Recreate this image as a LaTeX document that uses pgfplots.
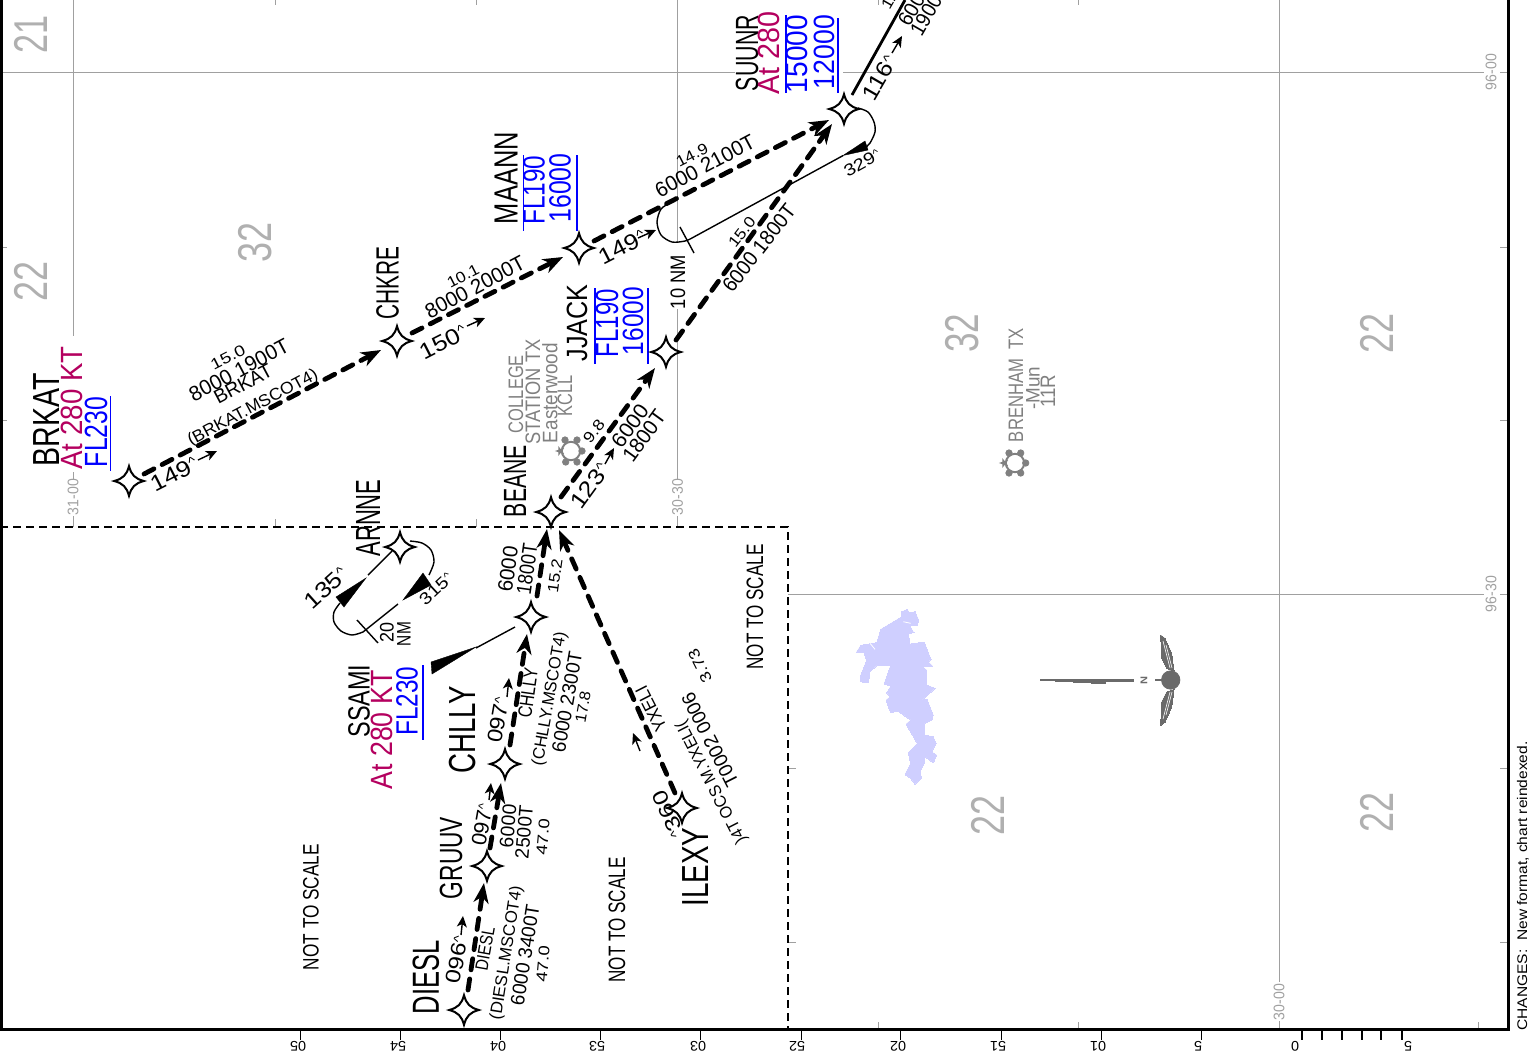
\documentclass[border=0pt]{standalone}
\usepackage{pgfplots}
\usepackage{graphicx}
\usepackage{fontspec}
\pgfplotsset{compat=1.18}
\usetikzlibrary{arrows.meta}
\setmainfont{Liberation Sans}

\definecolor{speed}{HTML}{B4005F}
\definecolor{lake}{HTML}{CFCFFF}
\definecolor{gridgrey}{HTML}{A0A0A0}
\definecolor{bignum}{HTML}{B0B0B0}
\definecolor{apt}{HTML}{808080}
\definecolor{rose}{HTML}{6A6A6A}

% one picture pixel = 0.5pt
\newdimen\pxu \pxu=0.5pt
% x, y, rotation, cap height (px), length (px), colour, text
\newcommand{\lab}[7]{\node[rotate=#3,inner sep=0pt,text=#6] at (axis cs:#1,#2)
  {\pgfmathsetmacro\fs{#4*0.698}\fontsize{\fs}{\fs}\selectfont\resizebox{#5\pxu}{\height}{#7}};}
% the small raised degree caret of the course labels
\newcommand{\crt}{\raisebox{0.25em}{\scalebox{0.6}{\textasciicircum}}}

\pgfdeclareplotmark{wpstar}{%
  \pgfpathmoveto{\pgfqpoint{0pt}{7.4pt}}
  \pgfpathcurveto{\pgfqpoint{1.2pt}{3pt}}{\pgfqpoint{3pt}{1.2pt}}{\pgfqpoint{7.4pt}{0pt}}
  \pgfpathcurveto{\pgfqpoint{3pt}{-1.2pt}}{\pgfqpoint{1.2pt}{-3pt}}{\pgfqpoint{0pt}{-7.4pt}}
  \pgfpathcurveto{\pgfqpoint{-1.2pt}{-3pt}}{\pgfqpoint{-3pt}{-1.2pt}}{\pgfqpoint{-7.4pt}{0pt}}
  \pgfpathcurveto{\pgfqpoint{-3pt}{1.2pt}}{\pgfqpoint{-1.2pt}{3pt}}{\pgfqpoint{0pt}{7.4pt}}
  \pgfpathclose\pgfusepathqfillstroke}

\pgfdeclareplotmark{aptstar}{%
  \pgfpathmoveto{\pgfqpoint{-2.6pt}{0pt}}
  \pgfpathlineto{\pgfqpoint{-0.81pt}{0.59pt}}
  \pgfpathlineto{\pgfqpoint{-0.8pt}{2.47pt}}
  \pgfpathlineto{\pgfqpoint{0.31pt}{0.95pt}}
  \pgfpathlineto{\pgfqpoint{2.1pt}{1.53pt}}
  \pgfpathlineto{\pgfqpoint{1pt}{0pt}}
  \pgfpathlineto{\pgfqpoint{2.1pt}{-1.53pt}}
  \pgfpathlineto{\pgfqpoint{0.31pt}{-0.95pt}}
  \pgfpathlineto{\pgfqpoint{-0.8pt}{-2.47pt}}
  \pgfpathlineto{\pgfqpoint{-0.81pt}{-0.59pt}}
  \pgfpathclose\pgfusepathqfill}

\pgfplotsset{
  route/.style={black,line width=2.4pt,line cap=round,dash pattern=on 5.6pt off 4.6pt,
    -{Stealth[length=10pt,width=7.5pt,inset=3pt]}},
  small arrow/.style={black,line width=0.7pt,-{Stealth[length=5.5pt,width=5pt,inset=1.5pt]}},
  hold/.style={black,line width=0.7pt},
  wedge/.style={black,fill=black,line width=0.2pt},
  gridline/.style={gridgrey,line width=0.5pt},
  tick/.style={gridgrey,line width=0.4pt},
  frame/.style={black,line width=1.5pt},
  fix line/.style={blue,line width=0.7pt},
}

\begin{document}
\begin{tikzpicture}
\path[use as bounding box,clip] (0,0) rectangle (767.5pt,528pt);
\begin{axis}[
    scale only axis,
    width=767.5pt,
    height=528pt,
    xmin=0, xmax=1535,
    ymin=0, ymax=1056,
    y dir=reverse,
    hide axis,
    clip=false
]

% lake
\addplot[lake,fill=lake,line width=0pt] coordinates {
  (901.7,611.7)(907.3,609.3)(909.3,612.7)(915,611.7)(918.7,620)(917.3,625)(910,626)
  (914,632.7)(908.3,633.3)(910,644)(924.3,642)(931,659.3)(928.3,661.7)(932.7,666)
  (920,666)(910,656)(926.7,670)(926.7,685)(935,688.3)(919,703)(916,702)(923,700)(927,699)
  (933.3,715)(931.7,720)(924,724)(924,735)(933.3,736.7)(936,743.3)(931.7,751.7)
  (936.7,755)(933.3,762.7)(925,756.7)(924,763.3)(920,771.7)(921.7,778.3)(915,784)
  (910.7,778.3)(905,774.3)(910.7,763.3)(908.3,752.7)(917.3,743.3)(906,724)(910.7,720)
  (897.7,711)(890.7,712.7)(886,700)(890,696.7)(886.7,692.7)(890.7,686)(884,684)
  (890.7,665)(877.3,665)(870,671.7)(868.3,682.7)(860.7,681.7)(860.7,675)(866.7,660)
  (864,652.7)(856,652.7)(860.7,645.3)(876.7,642.7)(880.7,629.3)(901.7,616.7)
} -- cycle;
\addplot[white,line width=0.4pt] coordinates {(870,643.3)(875,649.3)};
\addplot[white,line width=0.4pt] coordinates {(903.3,621.7)(910.7,623.3)};

% grid lines
\addplot[gridline] coordinates {(0,72)(735,72)};
\addplot[gridline] coordinates {(843,72)(1484,72)};
\addplot[gridline] coordinates {(788,594.5)(1484,594.5)};
\addplot[gridline] coordinates {(73,0)(73,336)};
\addplot[gridline] coordinates {(73,472)(73,479)};
\addplot[gridline] coordinates {(73,516)(73,527)};
\addplot[gridline] coordinates {(677.5,0)(677.5,243)};
\addplot[gridline] coordinates {(677.5,309)(677.5,479)};
\addplot[gridline] coordinates {(677.5,516)(677.5,527)};
\addplot[gridline] coordinates {(1279,0)(1279,982)};
\addplot[gridline] coordinates {(1279,1021)(1279,1029)};

% short ticks
\addplot[tick] coordinates {(0,247)(7,247)};
\addplot[tick] coordinates {(0,420)(7,420)};
\addplot[tick] coordinates {(275,0)(275,5)};
\addplot[tick] coordinates {(476,0)(476,5)};
\addplot[tick] coordinates {(878,0)(878,5)};
\addplot[tick] coordinates {(1078,0)(1078,5)};
\addplot[tick] coordinates {(275,519)(275,527)};
\addplot[tick] coordinates {(476,519)(476,527)};
\addplot[tick] coordinates {(878,1022)(878,1029)};
\addplot[tick] coordinates {(1078,1022)(1078,1029)};
\addplot[tick] coordinates {(1478,1022)(1478,1029)};
\addplot[tick] coordinates {(788,768)(796,768)};
\addplot[tick] coordinates {(788,942)(796,942)};
\addplot[tick] coordinates {(1500,72)(1508,72)};
\addplot[tick] coordinates {(1500,247)(1508,247)};
\addplot[tick] coordinates {(1500,420)(1508,420)};
\addplot[tick] coordinates {(1500,594)(1508,594)};
\addplot[tick] coordinates {(1500,768)(1508,768)};
\addplot[tick] coordinates {(1500,942)(1508,942)};

% not-to-scale box
\addplot[black,line width=1pt,dash pattern=on 4pt off 2.5pt] coordinates {(0,527)(788,527)(788,1029)};

% holding patterns
\addplot[hold] coordinates {(843,155.6)(692,238)};
\addplot[hold,smooth] coordinates {(858,108)(868,112)(874,122)(875,132)(870,143)(865,148)};
\addplot[hold,smooth] coordinates {(670,203)(661,209)(657,222)(661,235)(672,242)(685,241)(692,238)};
\addplot[hold] coordinates {(680,227)(694,253)};
\addplot[wedge] coordinates {(843,155.5)(865,141)(868,150)} -- cycle;

\addplot[hold] coordinates {(392,551)(368,575)};
\addplot[wedge] coordinates {(366,578)(336,597)(344,607)} -- cycle;
\addplot[hold,smooth] coordinates {(340,603)(334,612)(334,622)(341,631)(352,635)(363,632)};
\addplot[hold] coordinates {(363,632)(398,604)};
\addplot[wedge] coordinates {(403,600)(423,573)(431,585)} -- cycle;
\addplot[hold,smooth] coordinates {(429,575)(434,562)(431,550)(422,543)(410,541)};
\addplot[hold] coordinates {(357,620)(378,643)};

% SSAMI feeder
\addplot[hold] coordinates {(515,627)(476,648)};
\addplot[wedge] coordinates {(476,647)(431,662)(432,674)} -- cycle;

% outbound leg
\addplot[black,line width=1.4pt] coordinates {(852,95)(905,0)};

% routes
\addplot[route] coordinates {(144,474)(381,350)};
\addplot[route] coordinates {(412,333)(563,257)};
\addplot[route] coordinates {(594,241)(829,120)};
\addplot[route] coordinates {(561,497)(655,368)};
\addplot[route] coordinates {(676,340)(832,124)};
\addplot[route] coordinates {(468,990)(484,883)};
\addplot[route] coordinates {(490,848)(501,783)};
\addplot[route] coordinates {(510,745)(527,634)};
\addplot[route] coordinates {(537,596)(547,529)};
\addplot[route] coordinates {(675,793)(559,530)};

% course arrows
\addplot[small arrow] coordinates {(198,460)(217,451)};
\addplot[small arrow] coordinates {(467,326)(485,318)};
\addplot[small arrow] coordinates {(638,238)(656,230)};
\addplot[small arrow] coordinates {(605,464)(614,448)};
\addplot[small arrow] coordinates {(892,53)(902,36)};
\addplot[small arrow] coordinates {(507,697)(509,678)};
\addplot[small arrow] coordinates {(489,800)(491,783)};
\addplot[small arrow] coordinates {(461,935)(463,916)};
\addplot[small arrow] coordinates {(640,751)(633,733)};

% waypoints
\addplot[only marks,mark=wpstar,mark options={fill=white,draw=black,line width=1pt,solid}] coordinates {
  (129,481)(397,341)(579,248)(666,352)(844,109)(551,512)
  (400,547)(531,617)(505,764)(487,866)(464,1010)(682,808)
};

% airports
\addplot[only marks,mark=o,mark size=4.6pt,mark options={draw=apt,line width=1pt}] coordinates {(1015,463)(571,451)};
\addplot[only marks,mark=*,mark size=1.6pt,mark options={fill=apt,draw=apt}] coordinates {
  (1009,453)(1020.7,453)(1025.7,463)(1020.7,473)(1009,473)
  (565,440)(577,440)(582,451)(577,462)(565.7,462)
};
\addplot[only marks,mark=aptstar,mark options={fill=apt,draw=apt}] coordinates {(1004,463)(560,451)};

% compass
\addplot[rose,fill=rose,line width=0pt] coordinates {(1040.7,679.3)(1133.3,679.3)(1133.3,681.7)(1106,681.7)(1105,683.7)(1040.7,680.2)} -- cycle;
\addplot[rose,line width=0.6pt] coordinates {(1155,680)(1163,680)};
\addplot[only marks,mark=*,mark size=4.6pt,mark options={fill=rose,draw=rose}] coordinates {(1170.7,680)};
\addplot[rose,fill=rose,line width=0pt] coordinates {(1160.7,635)(1165,638.3)(1171.7,653.3)(1174,670.7)(1166.7,668.3)(1161.7,658.3)} -- cycle;
\addplot[rose,fill=rose,line width=0pt] coordinates {(1160.7,725.5)(1165,722)(1171.7,707)(1174,689.5)(1166.7,692)(1161.7,702)} -- cycle;
\addplot[white,line width=0.3pt] coordinates {(1163,641)(1170,668)};
\addplot[white,line width=0.3pt] coordinates {(1166,645)(1172,668)};
\addplot[white,line width=0.3pt] coordinates {(1163,719)(1170,692)};
\addplot[white,line width=0.3pt] coordinates {(1166,715)(1172,692)};
\lab{1144}{680}{-90}{7}{8}{rose}{\textbf{N}}

% frame
\addplot[frame] coordinates {(1,0)(1,1029)(1508,1029)(1508,0)};

% bottom ticks and scale
\addplot[black,line width=0.5pt] coordinates {(300,1029)(300,1040)};
\addplot[black,line width=0.5pt] coordinates {(400,1029)(400,1040)};
\addplot[black,line width=0.5pt] coordinates {(500.5,1029)(500.5,1040)};
\addplot[black,line width=0.5pt] coordinates {(600,1029)(600,1040)};
\addplot[black,line width=0.5pt] coordinates {(700,1029)(700,1040)};
\addplot[black,line width=0.5pt] coordinates {(801,1029)(801,1040)};
\addplot[black,line width=0.5pt] coordinates {(900.5,1029)(900.5,1040)};
\addplot[black,line width=0.5pt] coordinates {(1001,1029)(1001,1040)};
\addplot[black,line width=0.5pt] coordinates {(1101,1029)(1101,1040)};
\addplot[black,line width=0.5pt] coordinates {(1201,1029)(1201,1040)};
\addplot[black,line width=0.8pt] coordinates {(1302,1029)(1302,1040)};
\addplot[black,line width=0.8pt] coordinates {(1322,1029)(1322,1040)};
\addplot[black,line width=0.8pt] coordinates {(1342,1029)(1342,1040)};
\addplot[black,line width=0.8pt] coordinates {(1362,1029)(1362,1040)};
\addplot[black,line width=0.8pt] coordinates {(1381,1029)(1381,1040)};
\addplot[black,line width=0.8pt] coordinates {(1402,1029)(1402,1040)};
\lab{298}{1046}{180}{10}{16}{black}{05}
\lab{398}{1046}{180}{10}{16}{black}{54}
\lab{498}{1046}{180}{10}{16}{black}{04}
\lab{597}{1046}{180}{10}{16}{black}{53}
\lab{698}{1046}{180}{10}{16}{black}{03}
\lab{797}{1046}{180}{10}{16}{black}{52}
\lab{898}{1046}{180}{10}{16}{black}{02}
\lab{998}{1046}{180}{10}{16}{black}{51}
\lab{1098}{1046}{180}{10}{16}{black}{01}
\lab{1198}{1046}{180}{10}{8}{black}{5}
\lab{1295}{1046}{180}{10}{8}{black}{0}
\lab{1408}{1046}{180}{10}{8}{black}{5}

% fix restriction bars
\addplot[fix line] coordinates {(110.5,396)(110.5,471)};
\addplot[fix line] coordinates {(523.5,155)(523.5,231)};
\addplot[fix line] coordinates {(577,155)(577,231)};
\addplot[fix line] coordinates {(595,288)(595,364)};
\addplot[fix line] coordinates {(648,288)(648,364)};
\addplot[fix line] coordinates {(786,15)(786,93)};
\addplot[fix line] coordinates {(838,18)(838,93)};
\addplot[fix line] coordinates {(423,665)(423,740)};

% grey area numbers
\lab{31}{34}{90}{34}{38}{bignum}{21}
\lab{31}{281}{90}{34}{40}{bignum}{22}
\lab{255}{242}{90}{34}{40}{bignum}{32}
\lab{962}{333}{90}{34}{39}{bignum}{32}
\lab{1377}{333}{90}{34}{40}{bignum}{22}
\lab{988}{815}{90}{34}{40}{bignum}{22}
\lab{1377}{812}{90}{34}{40}{bignum}{22}

% grid labels
\lab{73}{497}{90}{11}{36}{gridgrey}{31-00}
\lab{677.5}{497}{90}{11}{36}{gridgrey}{30-30}
\lab{1279}{1002}{90}{11}{36}{gridgrey}{30-00}
\lab{1491}{72}{90}{11}{36}{gridgrey}{96-00}
\lab{1491}{594}{90}{11}{36}{gridgrey}{96-30}

% BRKAT
\lab{47}{420}{90}{27}{93}{black}{BRKAT}
\lab{72}{408}{90}{22}{123}{speed}{At 280 KT}
\lab{96}{432}{90}{23}{70}{blue}{FL230}
\lab{228}{357}{27}{11}{37}{black}{15.0}
\lab{239}{370}{28}{15}{110}{black}{8000 1900T}
\lab{243}{384}{28}{14}{63}{black}{BRKAT}
\lab{253}{408}{28}{12}{145}{black}{(BRKAT.MSCOT4)}
\lab{174}{474}{27}{16}{50}{black}{149\crt}

% CHKRE
\lab{387.5}{283}{90}{23}{73}{black}{CHKRE}
\lab{443}{342}{27}{16}{50}{black}{150\crt}
\lab{463}{276}{27}{11}{34}{black}{10.1}
\lab{475}{287}{28}{15}{110}{black}{8000 2000T}

% MAANN
\lab{506}{178}{90}{24}{92}{black}{MAANN}
\lab{534}{190}{90}{22}{69}{blue}{FL190}
\lab{560}{188}{90}{22}{69}{blue}{16000}
\lab{622}{247}{27}{16}{50}{black}{149\crt}
\lab{692}{155}{27}{11}{34}{black}{14.9}
\lab{705}{166}{28}{15}{110}{black}{6000 2100T}

% JJACK
\lab{577}{323}{90}{21}{77}{black}{JJACK}
\lab{607}{323}{90}{23}{68}{blue}{FL190}
\lab{633}{321}{90}{21}{68}{blue}{16000}
\lab{742}{232}{52}{11}{34}{black}{15.0}
\lab{759}{248}{52}{15}{105}{black}{6000 1800T}
\lab{678}{282}{90}{15}{54}{black}{10 NM}

% SUUNR
\lab{747}{53}{90}{23}{76}{black}{SUUNR}
\lab{769}{53}{90}{22}{83}{speed}{At 280}
\lab{797}{54}{90}{22}{78}{blue}{15000}
\lab{824}{52}{90}{21}{74}{blue}{12000}
\lab{880}{78}{60}{16}{47}{black}{116\crt}
\lab{862}{163}{29}{12}{39}{black}{329\crt}
\lab{893.5}{-6.5}{60}{11}{34}{black}{12.0}
\lab{914}{5}{60}{15}{44}{black}{6000}
\lab{929}{10}{60}{15}{55}{black}{1900T}

% BEANE and College Station
\lab{515}{481}{90}{23}{72}{black}{BEANE}
\lab{516}{394}{90}{15}{78}{apt}{COLLEGE}
\lab{533}{392}{90}{15}{105}{apt}{STATION TX}
\lab{550}{393}{90}{15}{100}{apt}{Easterwood}
\lab{565}{396}{90}{15}{41}{apt}{KCLL}
\lab{594}{431}{52}{11}{25}{black}{9.8}
\lab{590}{486}{54}{16}{50}{black}{123\crt}
\lab{630}{426}{54}{15}{48}{black}{6000}
\lab{644}{436}{54}{15}{58}{black}{1800T}

% ARNNE
\lab{368}{518}{90}{25}{77}{black}{ARNNE}
\lab{326}{588}{42}{16}{50}{black}{135\crt}
\lab{436}{589}{43}{12}{39}{black}{315\crt}
\lab{387}{632}{90}{14}{20}{black}{20}
\lab{404}{634}{90}{14}{24}{black}{NM}

% star to BEANE
\lab{508}{569}{82}{15}{46}{black}{6000}
\lab{527}{569}{82}{15}{51}{black}{1800T}
\lab{555}{576}{82}{11}{34}{black}{15.2}

% SSAMI
\lab{359}{701}{90}{22}{73}{black}{SSAMI}
\lab{382}{730}{90}{22}{119}{speed}{At 280 KT}
\lab{407}{701}{90}{22}{69}{blue}{FL230}

% CHLLY
\lab{463}{730}{90}{27}{87}{black}{CHLLY}
\lab{498}{720}{80}{15}{46}{black}{097\crt}
\lab{528}{693}{82}{14}{50}{black}{CHLLY}
\lab{550}{699}{80}{12}{135}{black}{(CHLLY.MSCOT4)}
\lab{567}{702}{80}{14}{102}{black}{6000 2300T}
\lab{583}{707}{80}{11}{32}{black}{17.8}

% GRUUV
\lab{451}{858}{90}{23}{82}{black}{GRUUV}
\lab{482}{825}{80}{15}{42}{black}{097\crt}
\lab{508}{826}{85}{14}{43}{black}{6000}
\lab{524}{832}{85}{14}{53}{black}{2500T}
\lab{543}{837}{85}{11}{36}{black}{47.0}

% DIESL
\lab{426}{977}{90}{27}{74}{black}{DIESL}
\lab{457}{960}{80}{15}{48}{black}{096\crt}
\lab{485}{949}{80}{13}{44}{black}{DIESL}
\lab{507}{953}{81}{12}{135}{black}{(DIESL.MSCOT4)}
\lab{525}{955}{81}{14}{102}{black}{6000 3400T}
\lab{543}{964}{85}{11}{36}{black}{47.0}

% ILEXY: these labels read up the route with their characters in reverse order
\lab{696}{867}{90}{27}{79}{black}{ILEXY}
\lab{651}{709}{117}{13}{48}{black}{YXELI}
\lab{712}{782}{117}{12}{136}{black}{)4T OCS M.YXELI(}
\lab{710}{740}{117}{14}{103}{black}{T0002 0006}
\lab{700}{666}{117}{11}{35}{black}{3.73}
\lab{668}{814}{115}{15}{50}{black}{\crt 360}

% not to scale
\lab{311}{907}{90}{16}{126}{black}{NOT TO SCALE}
\lab{617}{920}{90}{17}{125}{black}{NOT TO SCALE}
\lab{755}{607}{90}{17}{125}{black}{NOT TO SCALE}

% Brenham
\lab{1016}{385}{90}{15}{114}{apt}{BRENHAM\ \ TX}
\lab{1033}{388}{90}{14}{43}{apt}{-Mun}
\lab{1048}{391}{90}{15}{33}{apt}{11R}

% revision note
\lab{1523}{886}{90}{10}{289}{black}{CHANGES:\ \ New format, chart reindexed.}

\end{axis}
\end{tikzpicture}
\end{document}
